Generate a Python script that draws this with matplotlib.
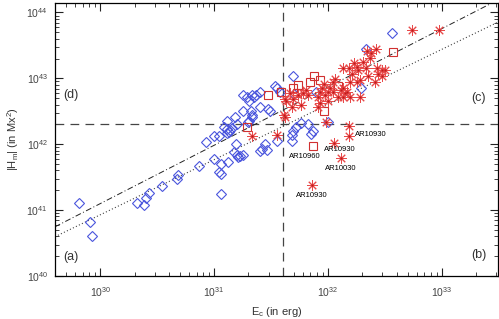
import numpy as np
import matplotlib
matplotlib.use("Agg")
import matplotlib.pyplot as plt

plt.rcParams["font.family"] = ["Liberation Sans", "DejaVu Sans"]
plt.rcParams["mathtext.default"] = "regular"

# values, as log10(E_c [erg]) and log10(|H_m| [Mx^2])
blue_logE = [29.81, 29.91, 29.93, 30.32, 30.38, 30.40, 30.43, 30.54, 30.67, 30.68,
             30.87, 31.00, 31.04, 31.06, 31.06, 31.00, 31.04, 31.11, 31.13, 31.14,
             30.93, 31.19, 31.06, 31.12, 31.17, 31.20, 31.23, 31.25, 31.21, 31.40,
             31.42, 31.45, 31.46, 31.55, 31.25, 31.29, 31.31, 31.33, 31.35, 31.37,
             31.40, 31.53, 31.55, 31.40, 31.47, 31.49, 31.25, 31.32, 31.33, 31.33,
             31.31, 31.30, 31.18, 31.11, 31.20, 31.09, 31.11, 31.16, 31.69, 31.70,
             31.89, 32.29, 32.33, 32.56, 31.76, 31.72, 31.69, 31.68, 31.68, 31.82,
             31.87, 31.85, 32.00, 31.58]
blue_logH = [41.11, 40.82, 40.60, 41.10, 41.07, 41.19, 41.26, 41.37, 41.47, 41.53,
             41.67, 41.77, 41.58, 41.55, 41.25, 42.12, 42.12, 42.17, 42.18, 42.21,
             42.03, 42.00, 41.70, 41.73, 41.88, 41.83, 41.82, 41.83, 41.80, 41.89,
             41.92, 42.00, 41.91, 42.05, 42.75, 42.71, 42.66, 42.74, 42.72, 42.75,
             42.80, 42.89, 42.85, 42.57, 42.54, 42.51, 42.50, 42.50, 42.45, 42.41,
             42.36, 42.33, 42.42, 42.35, 42.30, 42.26, 42.23, 42.24, 43.04, 42.77,
             42.80, 42.85, 43.45, 43.69, 42.32, 42.26, 42.20, 42.14, 42.05, 42.30,
             42.20, 42.15, 42.33, 42.80]

square_logE = [31.29, 31.47, 31.59, 31.69, 31.74, 31.84, 31.88, 31.93, 32.09, 31.96,
               31.87, 32.57, 31.73]
square_logH = [42.26, 42.74, 42.80, 42.86, 42.90, 42.95, 43.03, 42.98, 42.88, 42.50,
               41.97, 43.40, 42.78]

star_logE = [32.74, 32.97, 32.34, 32.38, 32.42, 32.37, 32.31, 32.23, 32.25, 32.26,
             32.18, 32.33, 32.43, 32.47, 32.50, 32.44, 32.47, 32.41, 32.35, 32.28,
             32.25, 32.21, 32.19, 32.13, 32.04, 32.11, 32.17, 32.19, 32.28, 32.02,
             32.00, 31.97, 31.93, 31.95, 31.96, 32.06, 32.13, 32.15, 32.09, 32.13,
             31.91, 31.93, 31.91, 31.81, 31.78, 31.82, 31.67, 31.69, 31.62, 31.74,
             31.76, 31.68, 31.62, 31.33, 31.55, 32.18, 32.18, 32.05, 32.11, 31.86,
             31.98, 32.00, 31.61, 31.63, 32.04]
star_logH = [43.74, 43.74, 43.42, 43.39, 43.45, 43.31, 43.25, 43.24, 43.18, 43.13,
             43.15, 43.16, 43.16, 43.13, 43.12, 43.06, 43.03, 42.94, 43.03, 42.98,
             42.94, 43.06, 42.95, 43.16, 42.94, 42.83, 42.80, 42.72, 42.72, 42.86,
             42.80, 42.75, 42.80, 42.86, 42.91, 42.99, 42.86, 42.78, 42.72, 42.71,
             42.71, 42.62, 42.57, 42.83, 42.78, 42.75, 42.78, 42.68, 42.69, 42.75,
             42.60, 42.56, 42.42, 42.12, 42.14, 42.27, 42.12, 42.02, 41.79, 41.38,
             42.33, 42.65, 42.45, 42.65, 42.80]

ann_labels = ["AR10930", "AR10930", "AR10960", "AR10030", "AR10930"]
ann_logE = [32.18, 32.05, 31.87, 32.11, 31.86]
ann_logH = [42.12, 42.02, 41.97, 41.79, 41.38]
ann_offsets = [(4.3, 1.4), (-7.2, -5.0), (-17.3, -7.2), (-11.5, -7.2), (-11.5, -7.2)]

# the two fitted power laws: log H = a + b log E
fit_dashdot = (14.518, 0.886)
fit_dotted = (15.788, 0.838)

E_split = 4.0e31
H_split = 2.0e42

fig = plt.figure(figsize=(4.99, 3.19), dpi=100)
ax = fig.add_axes([0.110, 0.135, 0.888, 0.856])
ax.set_xscale("log")
ax.set_yscale("log")
xmin, xmax = 4e29, 3.1e33
ax.set_xlim(xmin, xmax)
ax.set_ylim(1e40, 1.4e44)

ax.axvline(E_split, color="#444444", lw=0.9, ls=(0, (7, 5)))
ax.axhline(H_split, color="#444444", lw=0.9, ls=(0, (7, 5)))

xl = np.log10([xmin, xmax])
a, b = fit_dashdot
ax.plot(10**xl, 10**(a + b * xl), color="#222222", lw=0.7, ls=(0, (6, 2.5, 1, 2.5)))
a, b = fit_dotted
ax.plot(10**xl, 10**(a + b * xl), color="#444444", lw=0.8, ls=(0, (1, 2)))

ax.plot(10**np.array(blue_logE), 10**np.array(blue_logH), ls="none", marker="D",
        ms=4.7, mfc="none", mec="#4a55dd", mew=0.8)
ax.plot(10**np.array(square_logE), 10**np.array(square_logH), ls="none", marker="s",
        ms=6.3, mfc="none", mec="#d03030", mew=0.8)
ax.plot(10**np.array(star_logE), 10**np.array(star_logH), ls="none", marker=(8, 2, 0),
        ms=7.5, mec="#e84a4a", mew=0.7)
ax.plot(10**np.array(star_logE), 10**np.array(star_logH), ls="none", marker="s",
        ms=2.0, mfc="#c01818", mec="none")

for lab, le, lh, off in zip(ann_labels, ann_logE, ann_logH, ann_offsets):
    ax.annotate(lab, (10**le, 10**lh), xytext=off, textcoords="offset points",
                ha="left", va="center", fontsize=5.5)

ax.text(0.018, 0.663, "(d)", transform=ax.transAxes, fontsize=9, va="center", color="#333333")
ax.text(0.973, 0.652, "(c)", transform=ax.transAxes, fontsize=9, va="center", ha="right", color="#333333")
ax.text(0.018, 0.070, "(a)", transform=ax.transAxes, fontsize=9, va="center", color="#333333")
ax.text(0.973, 0.077, "(b)", transform=ax.transAxes, fontsize=9, va="center", ha="right", color="#333333")

ax.set_xlabel("E$_c$ (in erg)", fontsize=8, color="#333333", labelpad=4)
ax.set_ylabel("|H$_m$| (in Mx$^2$)", fontsize=8, color="#333333", labelpad=4)

ax.tick_params(which="both", direction="in", top=True, right=True, colors="#222222",
               labelcolor="#444444", labelsize=7.5)
ax.tick_params(which="major", length=6, width=0.8)
ax.tick_params(which="minor", length=3, width=0.6)
ax.tick_params(axis="x", which="major", pad=7)
ax.tick_params(axis="y", which="major", pad=5)
for s in ax.spines.values():
    s.set_linewidth(0.9)

fig.savefig("out.png", dpi=100)
